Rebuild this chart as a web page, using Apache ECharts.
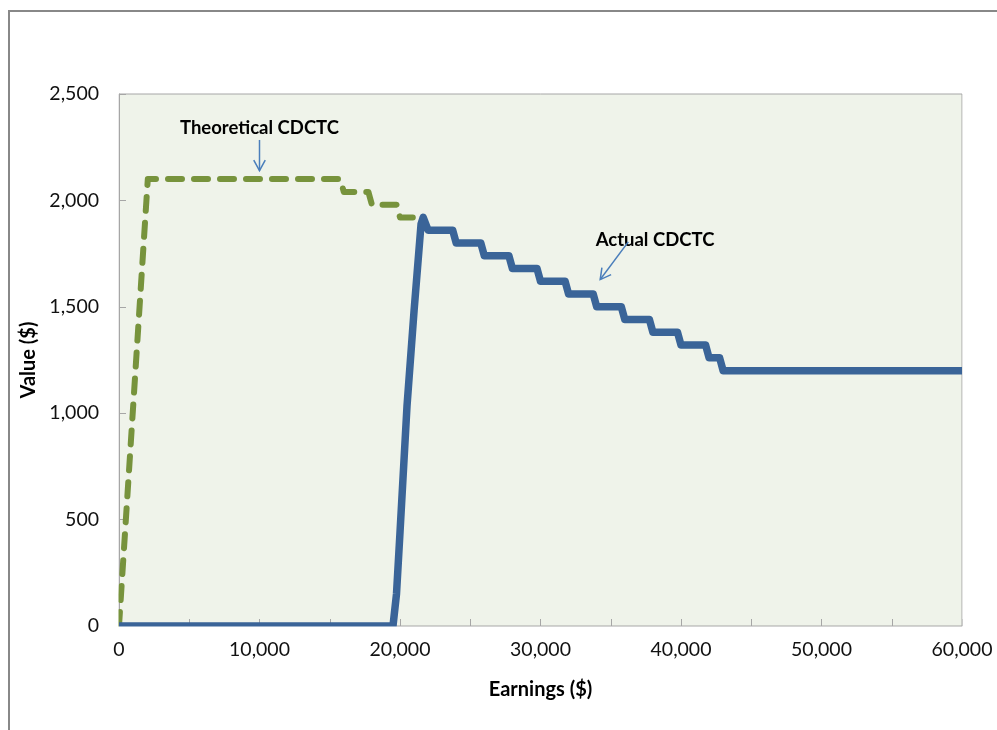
<!DOCTYPE html>
<html>
<head>
<meta charset="utf-8">
<script src="https://cdn.jsdelivr.net/npm/echarts@6/dist/echarts.min.js"></script>
<style>
html,body{margin:0;padding:0;background:#fff;}
#c{width:997px;height:730px;}
</style>
</head>
<body>
<div id="c"></div>
<script>
// Earnings ($) / Value ($) pairs
var theoreticalX = [0, 2050, 15750, 16000, 17750, 18000, 19750, 20000, 21600];
var theoreticalY = [0, 2100, 2100, 2040, 2040, 1980, 1980, 1920, 1920];

var actualX = [0, 19500, 19750, 20000, 20500, 21000, 21500, 21650, 22000,
  23750, 24000, 25750, 26000, 27750, 28000, 29750, 30000, 31750, 32000,
  33750, 34000, 35750, 36000, 37750, 38000, 39750, 40000, 41750, 42000,
  42750, 43000, 60000];
var actualY = [0, 0, 150, 440, 1035, 1480, 1890, 1920, 1860,
  1860, 1800, 1800, 1740, 1740, 1680, 1680, 1620, 1620, 1560,
  1560, 1500, 1500, 1440, 1440, 1380, 1380, 1320, 1320, 1260,
  1260, 1200, 1200];

var xTickLabels = ['0', '10,000', '20,000', '30,000', '40,000', '50,000', '60,000'];
var yTickLabels = ['0', '500', '1,000', '1,500', '2,000', '2,500'];

var seriesNames = ['Theoretical CDCTC', 'Actual CDCTC'];

function pairs(xs, ys) {
  return xs.map(function (x, i) { return [x, ys[i]]; });
}

var FONT = 'Lato, "Open Sans", sans-serif';
var chart = echarts.init(document.getElementById('c'), null, {renderer: 'canvas'});

var option = {
  backgroundColor: '#ffffff',
  animation: false,
  grid: {
    left: 119, right: 35, top: 94, bottom: 104,
    show: true, backgroundColor: '#EFF3EA', borderColor: '#A6A6A6', borderWidth: 1
  },
  xAxis: {
    type: 'value', min: 0, max: 60000, interval: 5000,
    name: 'Earnings ($)', nameLocation: 'middle', nameGap: 54,
    nameTextStyle: {fontFamily: FONT, fontWeight: 'bold', fontSize: 20, color: '#000'},
    axisLine: {show: true, lineStyle: {color: '#A6A6A6', width: 1}},
    axisTick: {show: true, inside: true, length: 7, lineStyle: {color: '#A6A6A6'}},
    splitLine: {show: false},
    axisLabel: {
      margin: 14, fontFamily: FONT, fontSize: 19.5, color: '#111',
      formatter: function (v) { return v % 10000 === 0 ? xTickLabels[v / 10000] : ''; }
    }
  },
  yAxis: {
    type: 'value', min: 0, max: 2500, interval: 500,
    name: 'Value ($)', nameLocation: 'middle', nameGap: 77,
    nameTextStyle: {fontFamily: FONT, fontWeight: 'bold', fontSize: 20, color: '#000'},
    axisLine: {show: true, lineStyle: {color: '#A6A6A6', width: 1}},
    axisTick: {show: true, inside: true, length: 7, lineStyle: {color: '#A6A6A6'}},
    splitLine: {show: false},
    axisLabel: {
      margin: 20, fontFamily: FONT, fontSize: 19.5, color: '#111',
      formatter: function (v) { return yTickLabels[v / 500]; }
    }
  },
  series: [
    {
      name: seriesNames[0], type: 'line', data: pairs(theoreticalX, theoreticalY),
      showSymbol: false, symbol: 'none', z: 2,
      lineStyle: {color: '#77933C', width: 6, type: [14, 12], cap: 'round', join: 'round'}
    },
    {
      name: seriesNames[1], type: 'line', data: pairs(actualX, actualY),
      showSymbol: false, symbol: 'none', z: 3,
      lineStyle: {color: '#3A6498', width: 7.5, cap: 'butt', join: 'round'}
    }
  ]
};
chart.setOption(option);

function px(x, y) { return chart.convertToPixel({gridIndex: 0}, [x, y]); }

// annotation anchors in data coordinates
var tTxt = px(10000, 2340), tA1 = px(10000, 2284), tA2 = px(10000, 2140);
var aTxt = px(38150, 1814), aA1 = px(36250, 1805), aA2 = px(34250, 1628);

function arrowHead(p1, p2, len) {
  var ang = Math.atan2(p2[1] - p1[1], p2[0] - p1[0]);
  var a1 = ang + Math.PI - 0.5, a2 = ang + Math.PI + 0.5;
  return [[p2[0] + len * Math.cos(a1), p2[1] + len * Math.sin(a1)], p2,
          [p2[0] + len * Math.cos(a2), p2[1] + len * Math.sin(a2)]];
}
var arrowStyle = {stroke: '#4A7EBB', lineWidth: 1.5, fill: null};

chart.setOption({
  graphic: [
    // outer chart frame
    {type: 'rect', silent: true, z: 0, shape: {x: 9, y: 11, width: 1100, height: 900},
     style: {fill: null, stroke: '#888888', lineWidth: 2}},
    // masks so the thick lines look clipped to the plot area
    {type: 'rect', silent: true, z: 50, shape: {x: 100, y: 626.6, width: 880, height: 7},
     style: {fill: '#ffffff'}},
    {type: 'rect', silent: true, z: 50, shape: {x: 110, y: 80, width: 8.5, height: 554},
     style: {fill: '#ffffff'}},
    {type: 'rect', silent: true, z: 50, shape: {x: 962.6, y: 80, width: 10, height: 554},
     style: {fill: '#ffffff'}},
    {type: 'text', z: 60, x: tTxt[0], y: tTxt[1],
     style: {text: seriesNames[0], font: 'bold 18.5px ' + FONT, fill: '#000', align: 'center', verticalAlign: 'middle'}},
    {type: 'line', z: 60, shape: {x1: tA1[0], y1: tA1[1], x2: tA2[0], y2: tA2[1]}, style: arrowStyle},
    {type: 'polyline', z: 60, shape: {points: arrowHead(tA1, tA2, 12)}, style: arrowStyle},
    {type: 'text', z: 60, x: aTxt[0], y: aTxt[1],
     style: {text: seriesNames[1], font: 'bold 18.5px ' + FONT, fill: '#000', align: 'center', verticalAlign: 'middle'}},
    {type: 'line', z: 60, shape: {x1: aA1[0], y1: aA1[1], x2: aA2[0], y2: aA2[1]}, style: arrowStyle},
    {type: 'polyline', z: 60, shape: {points: arrowHead(aA1, aA2, 12)}, style: arrowStyle}
  ]
});
</script>
</body>
</html>
